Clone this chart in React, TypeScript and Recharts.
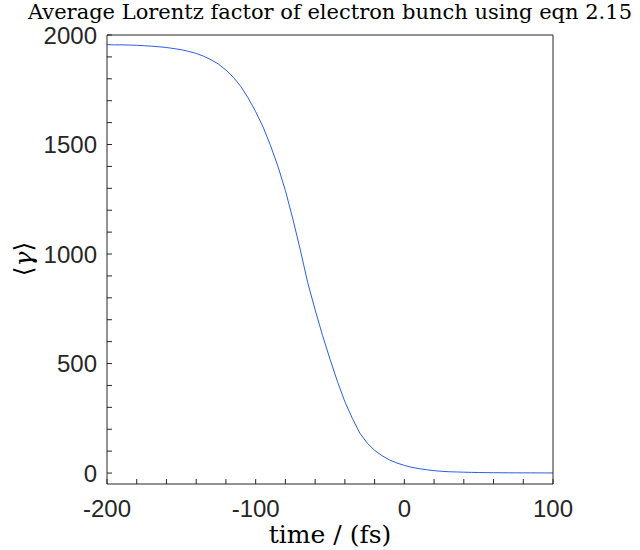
import { LineChart, Line, XAxis, YAxis, Label } from "recharts";

const times = [
  -200, -195, -190, -185, -180, -175, -170, -165, -160, -155, -150, -145, -140, -135, -130, -125,
  -120, -115, -110, -105, -100, -95, -90, -85, -80, -75, -70, -65, -60, -55, -50, -45, -40, -35,
  -30, -25, -20, -15, -10, -5, 0, 5, 10, 15, 20, 25, 30, 35, 40, 45, 50, 55, 60, 65, 70, 75, 80,
  85, 90, 95, 100,
];

const gamma = [
  1956, 1955, 1955, 1954, 1953, 1951, 1949, 1946, 1943, 1938, 1933, 1925, 1916, 1903, 1887, 1867,
  1840, 1807, 1765, 1712, 1650, 1580, 1495, 1400, 1290, 1160, 1020, 870, 745, 628, 520, 418, 326,
  250, 183, 137, 104, 79, 60, 46, 35, 26, 20, 15, 11, 8, 6, 5, 4, 3, 2.5, 2, 1.6, 1.3, 1.1, 1,
  0.9, 0.8, 0.7, 0.6, 0.5,
];

const xTicks = [-200, -180, -160, -140, -120, -100, -80, -60, -40, -20, 0, 20, 40, 60, 80, 100];
const xLabels = [-200, -100, 0, 100];
const yTicks = [
  0, 100, 200, 300, 400, 500, 600, 700, 800, 900, 1000, 1100, 1200, 1300, 1400, 1500, 1600, 1700,
  1800, 1900, 2000,
];
const yLabels = [0, 500, 1000, 1500, 2000];

const data = times.map((t, i) => ({ t, g: gamma[i] }));

const axisColor = "#262626";
const tickFont = { fontSize: 24, fill: axisColor, fontFamily: "Liberation Sans, Arial, sans-serif" };

export default function App() {
  return (
    <div style={{ position: "absolute", left: 0, top: 0, width: 640, height: 550, background: "#fff" }}>
      <div
        style={{
          position: "absolute",
          left: 0,
          top: -2,
          width: 660,
          textAlign: "center",
          fontFamily: "DejaVu Serif, serif",
          fontSize: 21,
          color: "#000",
          lineHeight: "28px",
          whiteSpace: "nowrap",
        }}
      >
        Average Lorentz factor of electron bunch using eqn 2.15
      </div>
      <LineChart width={640} height={550} data={data} margin={{ top: 34, right: 86, bottom: 0, left: 0 }}>
        <XAxis
          dataKey="t"
          type="number"
          domain={[-200, 100]}
          ticks={xTicks}
          interval={0}
          tickSize={-5}
          tickMargin={21}
          height={66}
          stroke={axisColor}
          tick={tickFont}
          tickFormatter={(v: number) => (xLabels.includes(v) ? String(v) : "")}
          allowDataOverflow
        >
          <Label
            value="time / (fs)"
            position="insideBottom"
            offset={7}
            style={{ fontFamily: "DejaVu Serif, serif", fontSize: 25, fill: "#000" }}
          />
        </XAxis>
        <XAxis
          xAxisId="top"
          orientation="top"
          dataKey="t"
          type="number"
          domain={[-200, 100]}
          ticks={xTicks}
          interval={0}
          tickSize={-5}
          height={1}
          stroke={axisColor}
          tick={false}
          allowDataOverflow
        />
        <YAxis
          type="number"
          domain={[-50, 2000]}
          ticks={yTicks}
          interval={0}
          tickSize={-5}
          tickMargin={15}
          width={107}
          stroke={axisColor}
          tick={tickFont}
          tickFormatter={(v: number) => (yLabels.includes(v) ? String(v) : "")}
          allowDataOverflow
        >
          <Label
            content={() => (
              <text
                x={32}
                y={259}
                transform="rotate(-90 32 259)"
                textAnchor="middle"
                style={{ fontFamily: "DejaVu Serif, serif", fontSize: 25, fill: "#000" }}
              >
                ⟨<tspan fontStyle="italic">γ</tspan>⟩
              </text>
            )}
          />
        </YAxis>
        <YAxis
          yAxisId="right"
          orientation="right"
          type="number"
          domain={[-50, 2000]}
          ticks={yTicks}
          interval={0}
          tickSize={-5}
          width={1}
          stroke={axisColor}
          tick={false}
          allowDataOverflow
        />
        <Line
          dataKey="g"
          type="linear"
          stroke="#2a5ee8"
          strokeWidth={1}
          dot={false}
          isAnimationActive={false}
        />
      </LineChart>
    </div>
  );
}
